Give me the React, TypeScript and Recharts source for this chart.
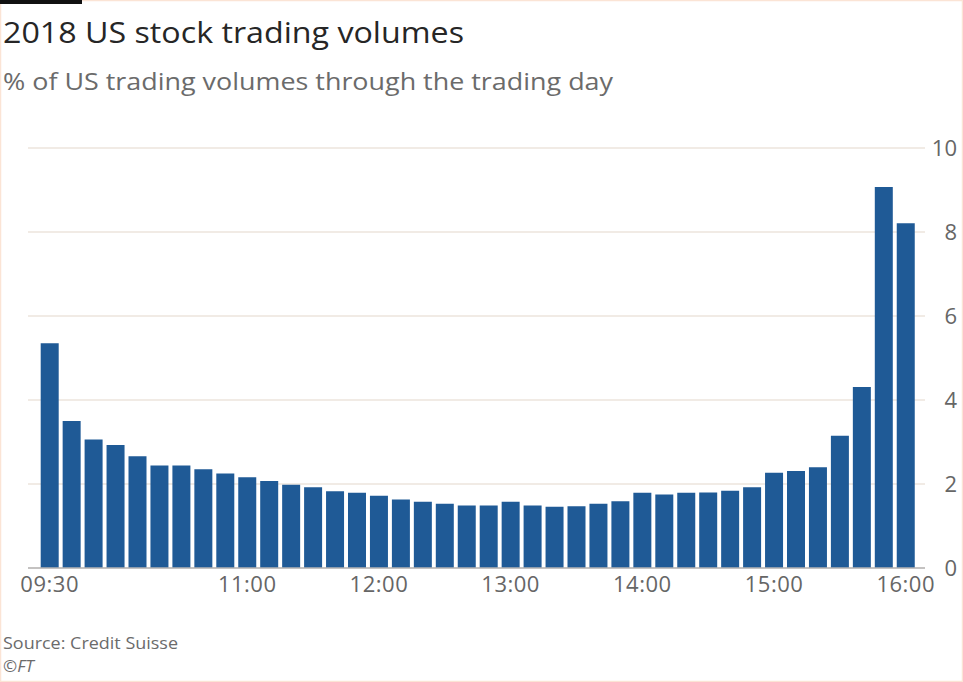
import React from "react";
import { BarChart, Bar, XAxis, YAxis, CartesianGrid } from "recharts";

const times = [
  "09:30", "09:40", "09:50", "10:00", "10:10", "10:20", "10:30", "10:40", "10:50", "11:00",
  "11:10", "11:20", "11:30", "11:40", "11:50", "12:00", "12:10", "12:20", "12:30", "12:40",
  "12:50", "13:00", "13:10", "13:20", "13:30", "13:40", "13:50", "14:00", "14:10", "14:20",
  "14:30", "14:40", "14:50", "15:00", "15:10", "15:20", "15:30", "15:40", "15:50", "16:00",
];

const volumes = [
  5.35, 3.5, 3.06, 2.93, 2.66, 2.44, 2.44, 2.35, 2.25, 2.16,
  2.07, 1.98, 1.92, 1.83, 1.79, 1.72, 1.63, 1.58, 1.53, 1.49,
  1.49, 1.58, 1.49, 1.46, 1.47, 1.53, 1.59, 1.79, 1.75, 1.79,
  1.8, 1.84, 1.92, 2.27, 2.31, 2.4, 3.15, 4.31, 9.07, 8.21,
];

const xTicks = ["09:30", "11:00", "12:00", "13:00", "14:00", "15:00", "16:00"];
const yTicks = [0, 2, 4, 6, 8, 10];

const title = "2018 US stock trading volumes";
const subtitle = "% of US trading volumes through the trading day";
const source = "Source: Credit Suisse";

const data = times.map((t, i) => ({ time: t, value: volumes[i] }));

const FONT = "'Open Sans', 'DejaVu Sans', sans-serif";

export default function App() {
  return (
    <div
      style={{
        position: "absolute",
        left: 0,
        top: 0,
        width: 963,
        height: 682,
        background: "#ffffff",
        fontFamily: FONT,
      }}
    >
      <svg
        width={963}
        height={682}
        style={{ position: "absolute", left: 0, top: 0 }}
      >
        <rect x={0.5} y={0.5} width={962} height={681} fill="#ffffff" stroke="#fbe4d5" strokeWidth={1.5} />
        <rect x={0} y={0} width={82} height={4} fill="#111111" />
        <text x={3} y={43} fontSize={29} fill="#262626" fontFamily={FONT} textLength={461} lengthAdjust="spacingAndGlyphs">
          {title}
        </text>
        <text x={3} y={90} fontSize={23} fill="#6b6b6b" fontFamily={FONT} textLength={610} lengthAdjust="spacingAndGlyphs">
          {subtitle}
        </text>
        <text x={3} y={649} fontSize={16} fill="#6b6b6b" fontFamily={FONT} textLength={175} lengthAdjust="spacingAndGlyphs">
          {source}
        </text>
        <text x={3} y={672} fontSize={17} fill="#6b6b6b" fontFamily={FONT}>
          <tspan>{"\u00A9"}</tspan>
          <tspan fontStyle="italic">FT</tspan>
        </text>
      </svg>
      <div style={{ position: "absolute", left: 0, top: 0 }}>
        <BarChart
          width={963}
          height={682}
          data={data}
          margin={{ top: 148, right: 0, bottom: 84, left: 28 }}
        >
          <CartesianGrid
            vertical={false}
            stroke="#ece4dc"
            strokeWidth={1.5}
          />
          <XAxis
            dataKey="time"
            ticks={xTicks}
            interval={0}
            height={30}
            padding={{ left: 10.7, right: 8.3 }}
            tickLine={false}
            axisLine={{ stroke: "#b5b5b5", strokeWidth: 1.5 }}
            tick={{ fill: "#666666", fontSize: 22, fontFamily: FONT, letterSpacing: 0.5 }}
          />
          <YAxis
            orientation="right"
            width={38}
            domain={[0, 10]}
            ticks={yTicks}
            interval={0}
            tickLine={false}
            axisLine={false}
            tick={{ fill: "#666666", fontSize: 22, fontFamily: FONT, textAnchor: "end", dx: 24 }}
          />
          <Bar dataKey="value" fill="#1f5a96" barSize={18} isAnimationActive={false} />
        </BarChart>
      </div>
    </div>
  );
}
